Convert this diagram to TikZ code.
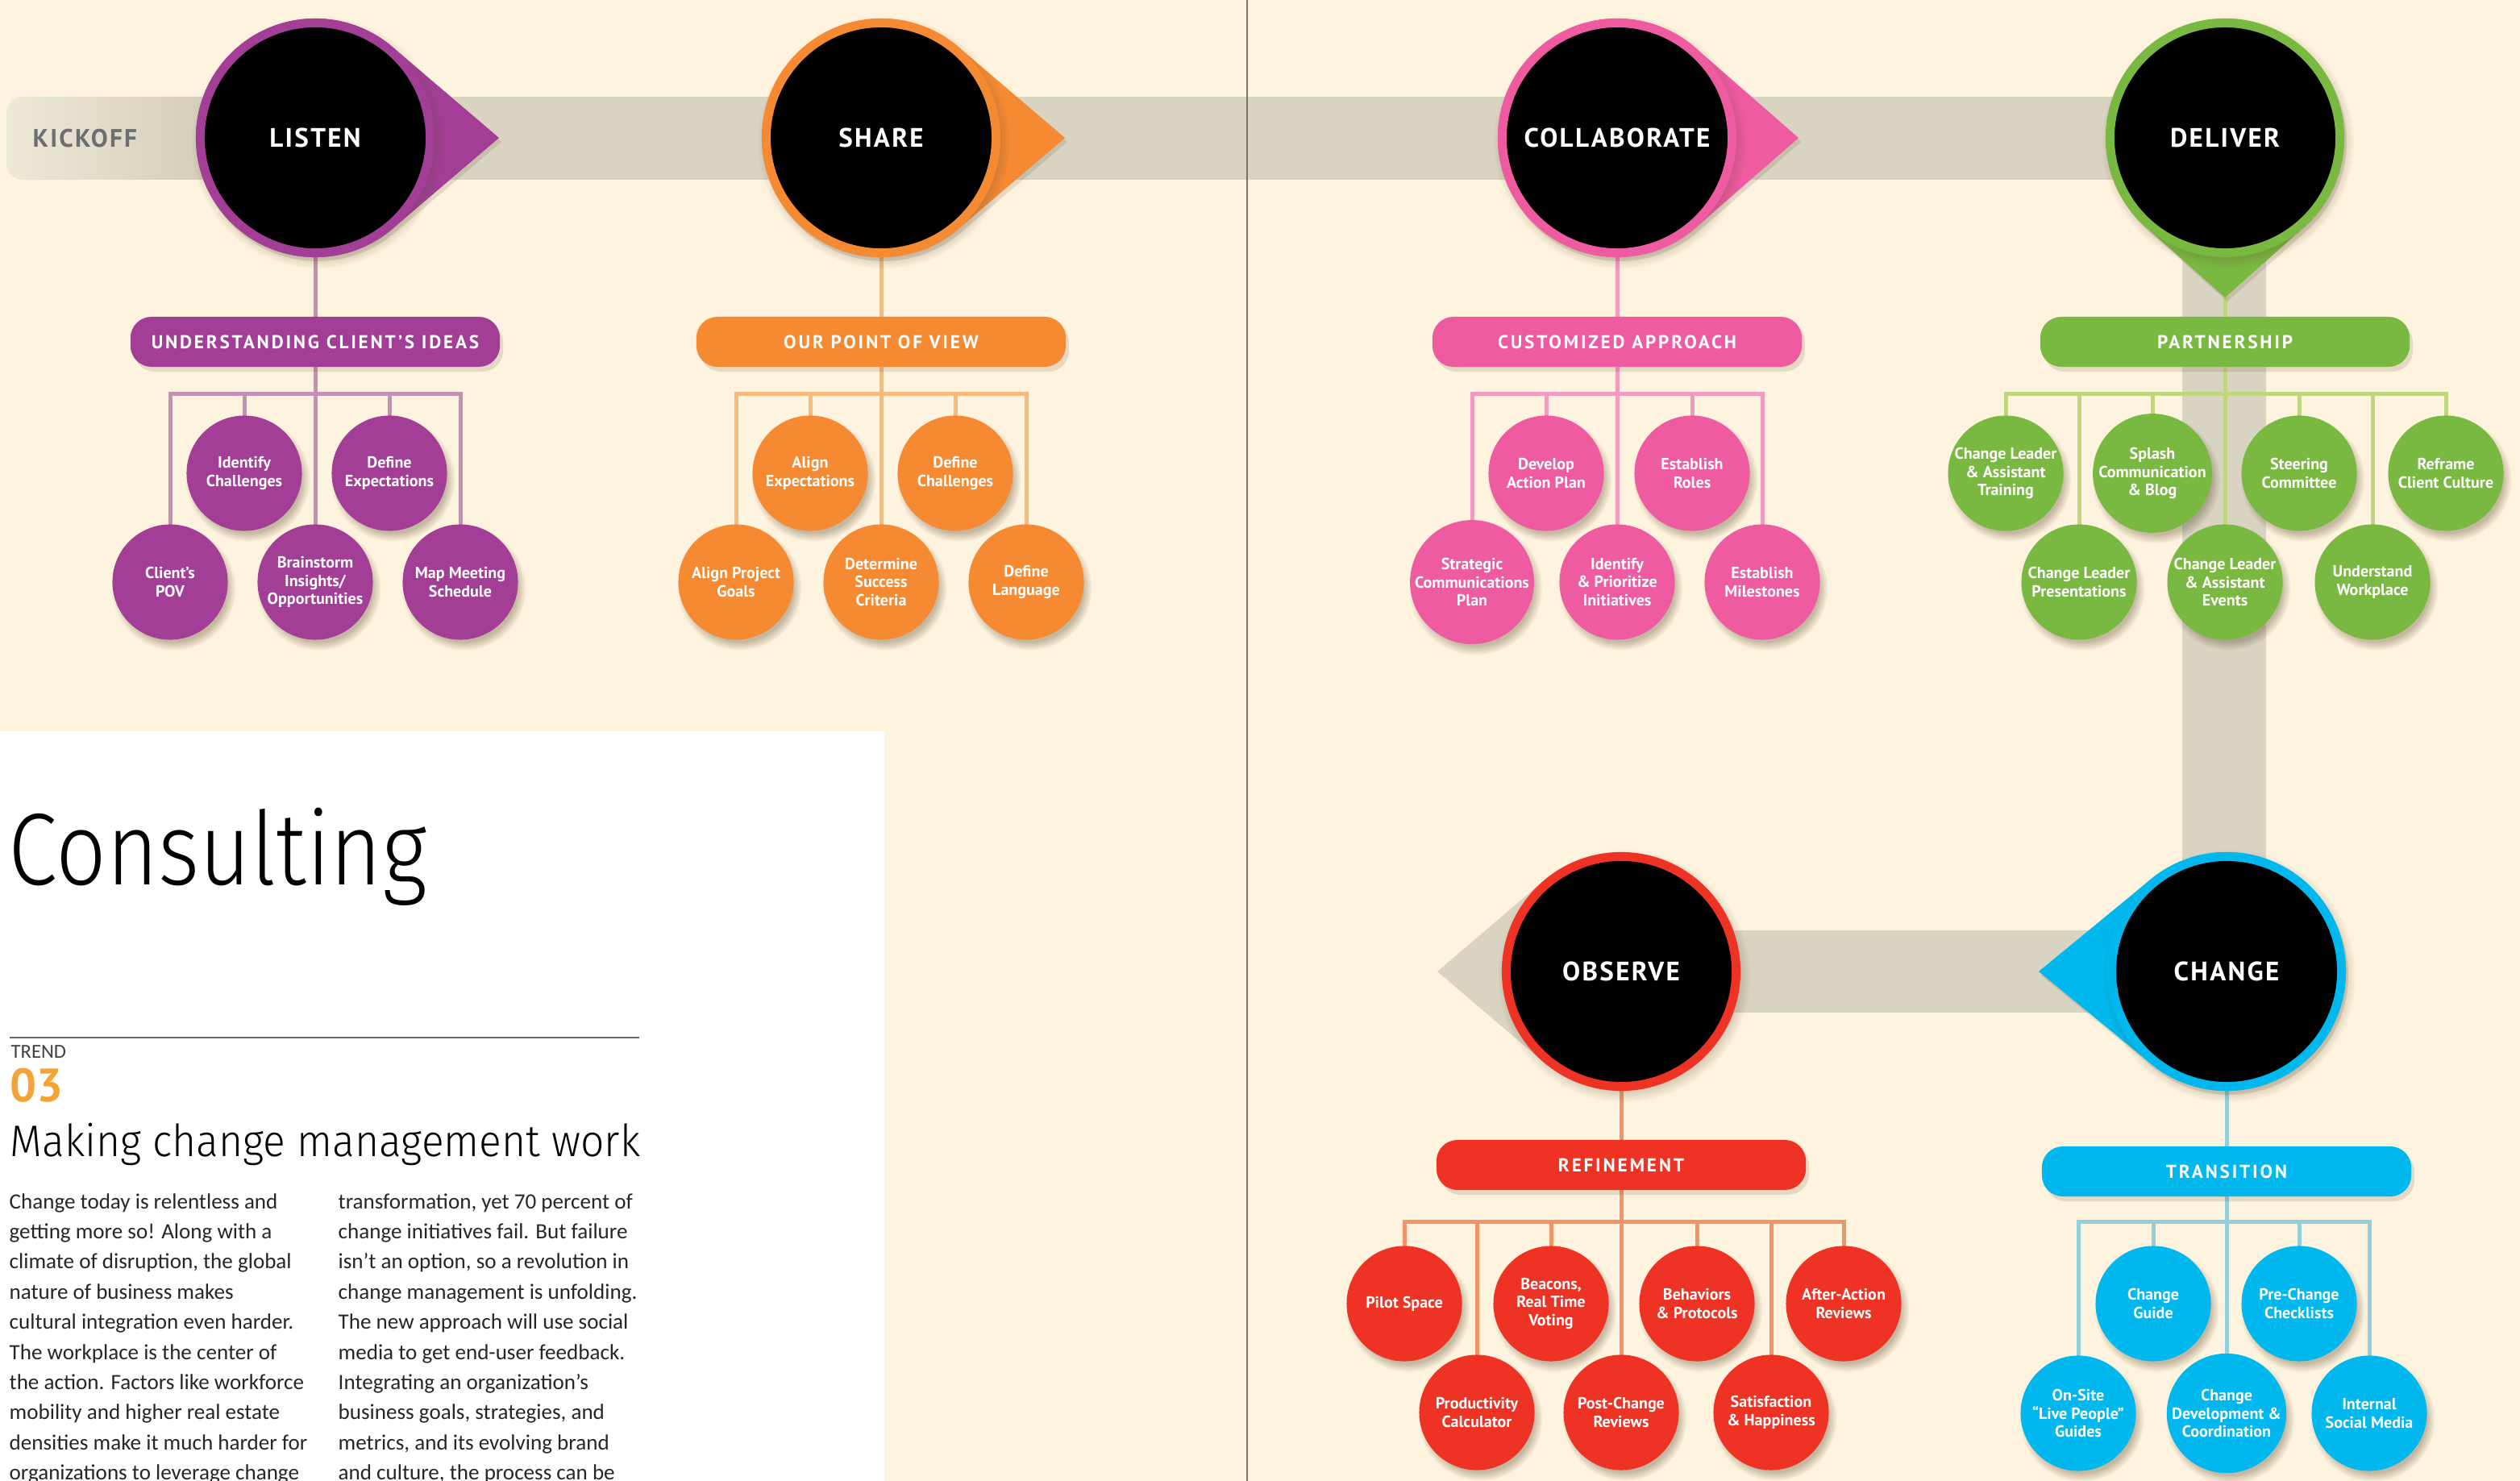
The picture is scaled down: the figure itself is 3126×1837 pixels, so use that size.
\documentclass[tikz,border=0pt]{standalone}
\usepackage{fontspec}
\usetikzlibrary{calc,shadows,fadings}

\newfontfamily\capsfont[LetterSpace=7]{PT Sans}
\newfontfamily\headfont[LetterSpace=12]{PT Sans}
\newfontfamily\leaffont{PT Sans}
\newfontfamily\bodyfont{Carlito}
\newfontfamily\thinfont[FakeStretch=0.87]{Fira Sans Light}
\newfontfamily\thinfontwide[FakeStretch=0.94]{Fira Sans Light}

\definecolor{paper}{HTML}{FEF3DE}
\definecolor{band}{HTML}{D9D3C1}
\definecolor{kickL}{HTML}{EEE8D7}
\definecolor{kickR}{HTML}{CEC7B3}
\definecolor{divider}{HTML}{7A7466}
\definecolor{kicktext}{HTML}{6D6E71}
\definecolor{lsn}{HTML}{A23E96}\definecolor{lsnW}{HTML}{C68FB5}
\definecolor{shr}{HTML}{F68A33}\definecolor{shrW}{HTML}{F9B97B}
\definecolor{clb}{HTML}{EE5BA0}\definecolor{clbW}{HTML}{F29BC0}
\definecolor{dlv}{HTML}{7AB941}\definecolor{dlvW}{HTML}{BFD67F}
\definecolor{obs}{HTML}{EE3224}\definecolor{obsW}{HTML}{F39468}
\definecolor{chg}{HTML}{00B8EE}\definecolor{chgW}{HTML}{93CFDA}
\definecolor{trendnum}{HTML}{F7A234}
\definecolor{shade}{HTML}{5A4A30}

\pgfdeclarelayer{ground}
\pgfdeclarelayer{wires}
\pgfsetlayers{ground,wires,main}

\tikzset{
  stage/.style={circle, fill=black, draw=#1, line width=0.11cm, minimum size=2.85cm,
    inner sep=0pt, text=white, font=\capsfont\bfseries\fontsize{9.4pt}{10pt}\selectfont,
    circular drop shadow={shadow scale=1.1, shadow xshift=0.03cm, shadow yshift=-0.05cm,
      opacity=0.35, fill=shade}},
  droptip/.style={fill=#1, drop shadow={shadow xshift=0.03cm, shadow yshift=-0.05cm,
      opacity=0.15, fill=shade}},
  header/.style={rounded corners=0.26cm, fill=#1, minimum width=4.58cm, minimum height=0.62cm,
    inner sep=0pt, text=white, font=\headfont\bfseries\fontsize{6.6pt}{7pt}\selectfont,
    drop shadow={shadow xshift=0.04cm, shadow yshift=-0.06cm, opacity=0.15, fill=shade}},
  leaf/.style={circle, fill=#1, minimum size=1.43cm, inner sep=0pt, align=center, text=white,
    font=\leaffont\bfseries\fontsize{5.7pt}{6.5pt}\selectfont,
    circular drop shadow={shadow scale=1.08, shadow xshift=0.04cm, shadow yshift=-0.07cm,
      opacity=0.35, fill=shade}},
  wire/.style={draw=#1, line width=0.05cm, line cap=rect},
  body/.style={anchor=base west, inner sep=0pt, text=black!85,
    font=\bodyfont\fontsize{7.7pt}{9pt}\selectfont},
}

% teardrop behind a stage circle: centre x, centre y, direction, tip distance, style
\newcommand\stagepointer[5]{%
  \pgfmathsetmacro\spa{acos(148/#4)}%
  \pgfmathsetmacro\spb{#3+\spa}%
  \pgfmathsetmacro\spc{#3-\spa}%
  \pgfmathsetmacro\spd{#3+\spa-360}%
  \path[#5] ($(#1,#2)+(\spb:148)$) -- ($(#1,#2)+(#3:#4)$) -- ($(#1,#2)+(\spc:148)$)
    arc[start angle=\spc, end angle=\spd, radius=148] -- cycle;
}

\begin{document}
\begin{tikzpicture}[x=0.01cm, y=-0.01cm]
\useasboundingbox (0,0) rectangle (3126,1837);

\begin{pgfonlayer}{ground}
  \fill[paper] (0,0) rectangle (3126,1837);
  \fill[white] (0,907) rectangle (1097,1837);
  % process track
  \shade[left color=kickL, right color=kickR, rounded corners=0.2cm] (8,120) rectangle (320,223);
  \fill[band] (391,120) rectangle (2760,223);
  \fill[band] (2707,171) rectangle (2811,1205);
  \fill[band] (2013,1154) rectangle (2762,1256);
  \draw[divider, line width=0.02cm] (1547,0) -- (1547,1837);
\end{pgfonlayer}

\node[anchor=base west, inner sep=0pt, text=kicktext,
  font=\capsfont\bfseries\fontsize{8.9pt}{10pt}\selectfont] (kickoff) at (40,183) {KICKOFF};

% ---------- LISTEN ----------
\stagepointer{391}{171}{0}{228}{droptip=lsn}
\node[stage=lsn] (listen) at (391,171) {LISTEN};
\node[header=lsn] (listenH) at (391,424) {UNDERSTANDING CLIENT’S IDEAS};
\node[leaf=lsn] (a1) at (211,722) {Client’s\\POV};
\node[leaf=lsn] (a2) at (303,587) {Identify\\Challenges};
\node[leaf=lsn] (a3) at (391,722) {Brainstorm\\Insights/\\Opportunities};
\node[leaf=lsn] (a4) at (483,587) {Define\\Expectations};
\node[leaf=lsn] (a5) at (571,722) {Map Meeting\\Schedule};

% ---------- SHARE ----------
\stagepointer{1093}{171}{0}{228}{droptip=shr}
\node[stage=shr] (share) at (1093,171) {SHARE};
\node[header=shr] (shareH) at (1093,424) {OUR POINT OF VIEW};
\node[leaf=shr] (b1) at (913,722) {Align Project\\Goals};
\node[leaf=shr] (b2) at (1005,587) {Align\\Expectations};
\node[leaf=shr] (b3) at (1093,722) {Determine\\Success\\Criteria};
\node[leaf=shr] (b4) at (1185,587) {Define\\Challenges};
\node[leaf=shr] (b5) at (1273,722) {Define\\Language};

% ---------- COLLABORATE ----------
\stagepointer{2006}{171}{0}{225}{droptip=clb}
\node[stage=clb] (collab) at (2006,171) {COLLABORATE};
\node[header=clb] (collabH) at (2006,424) {CUSTOMIZED APPROACH};
\node[leaf=clb] (c1) at (1826,722) {Strategic\\Communications\\Plan};
\node[leaf=clb] (c2) at (1918,587) {Develop\\Action Plan};
\node[leaf=clb] (c3) at (2006,722) {Identify\\\& Prioritize\\Initiatives};
\node[leaf=clb] (c4) at (2099,587) {Establish\\Roles};
\node[leaf=clb] (c5) at (2186,722) {Establish\\Milestones};

% ---------- DELIVER ----------
\stagepointer{2760}{171}{90}{198}{droptip=dlv}
\node[stage=dlv] (deliver) at (2760,171) {DELIVER};
\node[header=dlv] (deliverH) at (2760,424) {PARTNERSHIP};
\node[leaf=dlv] (d1) at (2488,587) {Change Leader\\\& Assistant\\Training};
\node[leaf=dlv] (d2) at (2579,722) {Change Leader\\Presentations};
\node[leaf=dlv] (d3) at (2670,587) {Splash\\Communication\\\& Blog};
\node[leaf=dlv] (d4) at (2760,722) {Change Leader\\\& Assistant\\Events};
\node[leaf=dlv] (d5) at (2852,587) {Steering\\Committee};
\node[leaf=dlv] (d6) at (2943,722) {Understand\\Workplace};
\node[leaf=dlv] (d7) at (3034,587) {Reframe\\Client Culture};

% ---------- OBSERVE ----------
\stagepointer{2011}{1205}{180}{228}{fill=band}
\node[stage=obs] (observe) at (2011,1205) {OBSERVE};
\node[header=obs] (observeH) at (2011,1445) {REFINEMENT};
\node[leaf=obs] (e1) at (1742,1617) {Pilot Space};
\node[leaf=obs] (e2) at (1832,1752) {Productivity\\Calculator};
\node[leaf=obs] (e3) at (1924,1617) {Beacons,\\Real Time\\Voting};
\node[leaf=obs] (e4) at (2011,1752) {Post-Change\\Reviews};
\node[leaf=obs] (e5) at (2105,1617) {Behaviors\\\& Protocols};
\node[leaf=obs] (e6) at (2197,1752) {Satisfaction\\\& Happiness};
\node[leaf=obs] (e7) at (2287,1617) {After-Action\\Reviews};

% ---------- CHANGE ----------
\stagepointer{2762}{1205}{180}{233}{droptip=chg}
\node[stage=chg] (change) at (2762,1205) {CHANGE};
\node[header=chg] (changeH) at (2762,1453) {TRANSITION};
\node[leaf=chg] (f1) at (2578,1753) {On-Site\\“Live People”\\Guides};
\node[leaf=chg] (f2) at (2671,1617) {Change\\Guide};
\node[leaf=chg] (f3) at (2762,1753) {Change\\Development \&\\Coordination};
\node[leaf=chg] (f4) at (2852,1617) {Pre-Change\\Checklists};
\node[leaf=chg] (f5) at (2939,1753) {Internal\\Social Media};

% ---------- connectors ----------
\coordinate (barTop) at (0,489);
\coordinate (barLow) at (0,1515);
\begin{pgfonlayer}{wires}
  \draw[wire=lsnW] (listen) -- (listenH);
  \draw[wire=lsnW] (listenH) -- (a3);
  \draw[wire=lsnW] (a1.north) -- (a1.north |- barTop) -- (a5.north |- barTop) -- (a5.north);
  \foreach \n in {a2,a4} \draw[wire=lsnW] (\n.north) -- (\n.north |- barTop);

  \draw[wire=shrW] (share) -- (shareH);
  \draw[wire=shrW] (shareH) -- (b3);
  \draw[wire=shrW] (b1.north) -- (b1.north |- barTop) -- (b5.north |- barTop) -- (b5.north);
  \foreach \n in {b2,b4} \draw[wire=shrW] (\n.north) -- (\n.north |- barTop);

  \draw[wire=clbW] (collab) -- (collabH);
  \draw[wire=clbW] (collabH) -- (c3);
  \draw[wire=clbW] (c1.north) -- (c1.north |- barTop) -- (c5.north |- barTop) -- (c5.north);
  \foreach \n in {c2,c4} \draw[wire=clbW] (\n.north) -- (\n.north |- barTop);

  \draw[wire=dlvW] (deliver) -- (deliverH);
  \draw[wire=dlvW] (deliverH) -- (d4);
  \draw[wire=dlvW] (d1.north) -- (d1.north |- barTop) -- (d7.north |- barTop) -- (d7.north);
  \foreach \n in {d2,d3,d5,d6} \draw[wire=dlvW] (\n.north) -- (\n.north |- barTop);

  \draw[wire=obsW] (observe) -- (observeH);
  \draw[wire=obsW] (observeH) -- (e4);
  \draw[wire=obsW] (e1.north) -- (e1.north |- barLow) -- (e7.north |- barLow) -- (e7.north);
  \foreach \n in {e2,e3,e5,e6} \draw[wire=obsW] (\n.north) -- (\n.north |- barLow);

  \draw[wire=chgW] (change) -- (changeH);
  \draw[wire=chgW] (changeH) -- (f3);
  \draw[wire=chgW] (f1.north) -- (f1.north |- barLow) -- (f5.north |- barLow) -- (f5.north);
  \foreach \n in {f2,f4} \draw[wire=chgW] (\n.north) -- (\n.north |- barLow);
\end{pgfonlayer}

% ---------- article column ----------
\node[anchor=base west, inner sep=0pt, font=\thinfont\fontsize{36pt}{40pt}\selectfont]
  (title) at (10,1097) {Consulting};
\draw[black!60, line width=0.02cm] (12,1287) -- (793,1287);
\node[anchor=base west, inner sep=0pt, text=black!75, font=\bodyfont\fontsize{7pt}{8pt}\selectfont]
  (trend) at (13,1312) {TREND};
\node[anchor=base west, inner sep=0pt, text=trendnum,
  font=\leaffont\bfseries\fontsize{16.5pt}{18pt}\selectfont] (trendno) at (12,1366) {03};
\node[anchor=base west, inner sep=0pt, font=\thinfontwide\fontsize{15.6pt}{18pt}\selectfont]
  (subtitle) at (12,1434) {Making change management work};

\foreach \t [count=\i from 0] in {{Change today is relentless and},{getting more so! Along with a},
  {climate of disruption, the global},{nature of business makes},{cultural integration even harder.},
  {The workplace is the center of},{the action. Factors like workforce},{mobility and higher real estate},
  {densities make it much harder for},{organizations to leverage change}}
  \node[body] (colA\i) at (11,1499+37.4*\i) {\t};

\foreach \t [count=\i from 0] in {{transformation, yet 70 percent of},{change initiatives fail. But failure},
  {isn’t an option, so a revolution in},{change management is unfolding.},{The new approach will use social},
  {media to get end-user feedback.},{Integrating an organization’s},{business goals, strategies, and},
  {metrics, and its evolving brand},{and culture, the process can be}}
  \node[body] (colB\i) at (419,1499+37.4*\i) {\t};

\end{tikzpicture}
\end{document}
